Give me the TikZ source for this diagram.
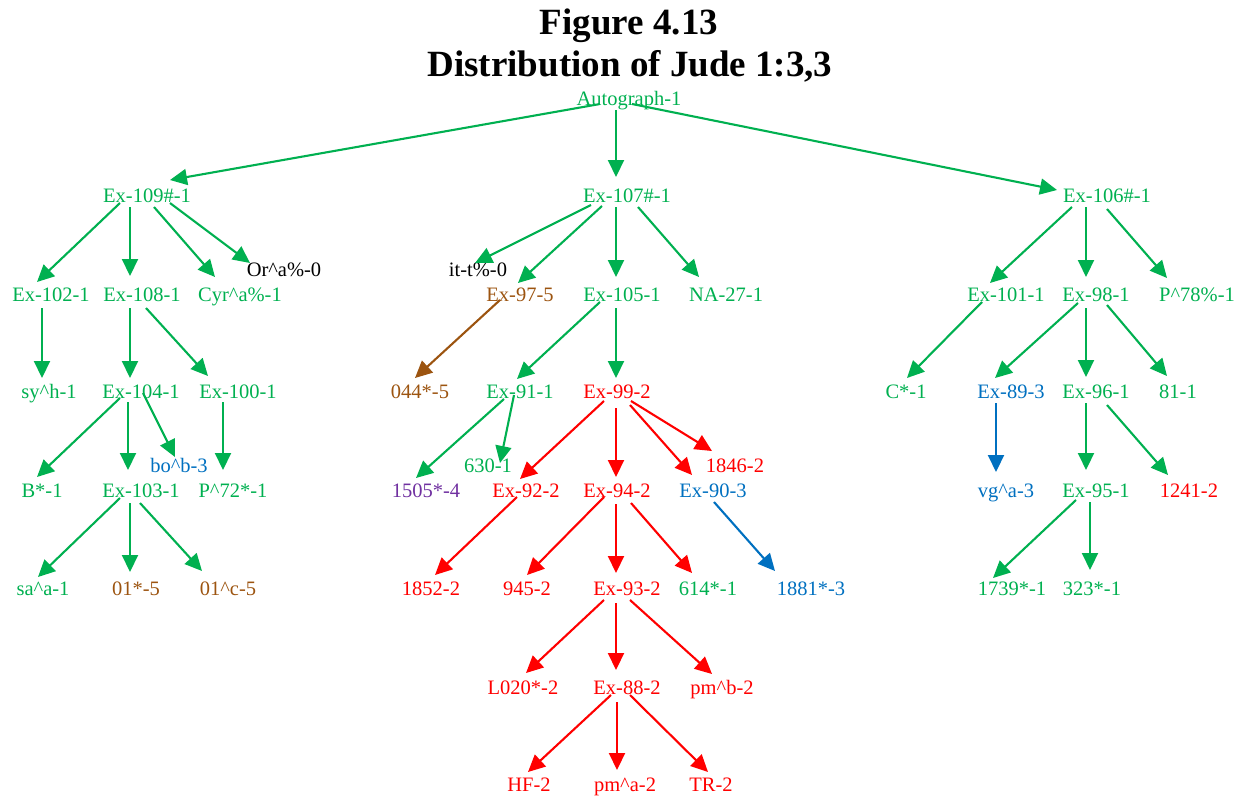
\documentclass[tikz,border=0pt]{standalone}
\usepackage{fontspec}
\setmainfont{Liberation Serif}
\usetikzlibrary{arrows.meta}
\definecolor{gr}{RGB}{0,176,80}
\definecolor{rd}{RGB}{255,0,0}
\definecolor{bl}{RGB}{0,112,192}
\definecolor{brn}{RGB}{156,84,16}
\definecolor{pu}{RGB}{112,48,160}
\newcommand\crt{\textasciicircum}
\newcommand\ed[5]{\draw[e,#1] ([shift={(#3)}]#2.center) -- ([shift={(#5)}]#4.center);}
\begin{document}
\begin{tikzpicture}[x=1pt,y=-1pt,
  lbl/.style={inner sep=0pt,text height=13.5pt,text depth=0pt,font=\fontsize{20.5}{24}\selectfont},
  g/.style={lbl,text=gr}, r/.style={lbl,text=rd}, b/.style={lbl,text=bl},
  bw/.style={lbl,text=brn}, k/.style={lbl,text=black}, pp/.style={lbl,text=pu},
  ttl/.style={anchor=base,inner sep=0pt,font=\fontsize{37}{44}\selectfont\bfseries},
  e/.style={line width=2.1pt,-{Triangle[length=17pt,width=16pt]}}]
\useasboundingbox (0,0) rectangle (1244,798);
\node[ttl] (t1) at (629,34) {Figure 4.13};
\node[ttl] (t2) at (630,76) {Distribution of Jude 1:3,3};
% nodes
\node[g] (auto) at (629,99) {Autograph-1};
\node[g] (n109) at (147,196) {Ex-109\#-1};
\node[g] (n107) at (627,196) {Ex-107\#-1};
\node[g] (n106) at (1107,196) {Ex-106\#-1};
\node[g] (n102) at (51,295) {Ex-102-1};
\node[g] (n108) at (142,295) {Ex-108-1};
\node[g] (cyr) at (240,295) {Cyr\crt a\%-1};
\node[k] (orA) at (284,270) {Or\crt a\%-0};
\node[k] (itt) at (478,270) {it-t\%-0};
\node[bw] (n97) at (520,295) {Ex-97-5};
\node[g] (n105) at (622,295) {Ex-105-1};
\node[g] (na27) at (726,295) {NA-27-1};
\node[g] (n101) at (1006,295) {Ex-101-1};
\node[g] (n98) at (1096,295) {Ex-98-1};
\node[g] (p78) at (1197,295) {P\crt 78\%-1};
\node[g] (syh) at (49,392) {sy\crt h-1};
\node[g] (n104) at (141,392) {Ex-104-1};
\node[g] (n100) at (238,392) {Ex-100-1};
\node[bw] (n044) at (420,392) {044*-5};
\node[g] (n91) at (520,392) {Ex-91-1};
\node[r] (n99) at (617,392) {Ex-99-2};
\node[g] (cst) at (906,392) {C*-1};
\node[b] (n89) at (1011,392) {Ex-89-3};
\node[g] (n96) at (1096,392) {Ex-96-1};
\node[g] (n81) at (1178,392) {81-1};
\node[b] (bob) at (179,466) {bo\crt b-3};
\node[g] (n630) at (488,466) {630-1};
\node[r] (n1846) at (735,466) {1846-2};
\node[g] (bst) at (42,491) {B*-1};
\node[g] (n103) at (141,491) {Ex-103-1};
\node[g] (p72) at (233,491) {P\crt 72*-1};
\node[pp] (n1505) at (426,491) {1505*-4};
\node[r] (n92) at (526,491) {Ex-92-2};
\node[r] (n94) at (617,491) {Ex-94-2};
\node[b] (n90) at (713,491) {Ex-90-3};
\node[b] (vga) at (1006,491) {vg\crt a-3};
\node[g] (n95) at (1096,491) {Ex-95-1};
\node[r] (n1241) at (1189,491) {1241-2};
\node[g] (saa) at (43,589) {sa\crt a-1};
\node[bw] (n01s) at (136,589) {01*-5};
\node[bw] (n01c) at (228,589) {01\crt c-5};
\node[r] (n1852) at (431,589) {1852-2};
\node[r] (n945) at (527,589) {945-2};
\node[r] (n93) at (627,589) {Ex-93-2};
\node[g] (n614) at (708,589) {614*-1};
\node[b] (n1881) at (811,589) {1881*-3};
\node[g] (n1739) at (1012,589) {1739*-1};
\node[g] (n323) at (1092,589) {323*-1};
\node[r] (l020) at (523,688) {L020*-2};
\node[r] (n88) at (627,688) {Ex-88-2};
\node[r] (pmb) at (722,688) {pm\crt b-2};
\node[r] (hf) at (529,785) {HF-2};
\node[r] (pma) at (625,785) {pm\crt a-2};
\node[r] (tr) at (711,785) {TR-2};
% edges
\ed{gr}{auto}{-29,5}{n109}{23,-16}
\ed{gr}{auto}{-13,11}{n107}{-11,-19}
\ed{gr}{auto}{3,5}{n106}{-50,-6}
\ed{gr}{n109}{-27,7}{n102}{-14,-13}
\ed{gr}{n109}{-17,11}{n108}{-12,-19}
\ed{gr}{n109}{7,11}{cyr}{-25,-18}
\ed{gr}{n109}{23,7}{orA}{-34,-7}
\ed{gr}{n107}{-36,9}{itt}{-3,-7}
\ed{gr}{n107}{-25,10}{n97}{-2,-12}
\ed{gr}{n107}{-11,11}{n105}{-6,-18}
\ed{gr}{n107}{11,11}{na27}{-27,-18}
\ed{gr}{n106}{-35,11}{n101}{-16,-12}
\ed{gr}{n106}{-21,11}{n98}{-10,-18}
\ed{gr}{n106}{0,13}{p78}{-30,-17}
\ed{gr}{n102}{-9,13}{syh}{-7,-14}
\ed{gr}{n108}{-12,13}{n104}{-11,-14}
\ed{gr}{n108}{4,13}{n100}{-30,-16}
\ed{brn}{n97}{-20,5}{n044}{-5,-14}
\ed{gr}{n105}{-22,7}{n91}{-3,-13}
\ed{gr}{n105}{-6,13}{n99}{-1,-14}
\ed{gr}{n101}{-24,7}{cst}{1,-14}
\ed{gr}{n98}{-18,8}{n89}{-16,-14}
\ed{gr}{n98}{-10,13}{n96}{-10,-15}
\ed{gr}{n98}{11,10}{n81}{-11,-16}
\ed{gr}{n104}{-21,6}{bst}{-5,-14}
\ed{gr}{n104}{-13,10}{n103}{-13,-21}
\ed{gr}{n104}{2,1}{bob}{-4,-9}
\ed{gr}{n100}{-15,10}{p72}{-10,-21}
\ed{gr}{n91}{-16,7}{n1505}{-10,-13}
\ed{gr}{n91}{-6,3}{n630}{12,-3}
\ed{rd}{n99}{-13,9}{n92}{-6,-12}
\ed{rd}{n99}{-1,16}{n94}{-1,-14}
\ed{rd}{n99}{13,13}{n90}{-21,-16}
\ed{rd}{n99}{14,9}{n1846}{-23,-15}
\ed{bl}{n89}{-15,11}{vga}{-10,-19}
\ed{gr}{n96}{-10,11}{n95}{-10,-21}
\ed{gr}{n96}{11,13}{n1241}{-21,-16}
\ed{gr}{n103}{-21,7}{saa}{-5,-12}
\ed{gr}{n103}{-11,12}{n01s}{-6,-17}
\ed{gr}{n103}{-1,12}{n01c}{-26,-18}
\ed{rd}{n92}{-9,6}{n1852}{4,-14}
\ed{rd}{n94}{-13,6}{n945}{0,-14}
\ed{rd}{n94}{-1,13}{n93}{-11,-16}
\ed{rd}{n94}{14,12}{n614}{-16,-16}
\ed{bl}{n90}{1,11}{n1881}{-36,-18}
\ed{gr}{n95}{-20,9}{n1739}{-19,-11}
\ed{gr}{n95}{-6,11}{n323}{-2,-19}
\ed{rd}{n93}{-23,11}{l020}{3,-15}
\ed{rd}{n93}{-11,14}{n88}{-11,-18}
\ed{rd}{n93}{3,11}{pmb}{-10,-14}
\ed{rd}{n88}{-16,7}{hf}{-1,-13}
\ed{rd}{n88}{-10,14}{pma}{-8,-15}
\ed{rd}{n88}{3,7}{tr}{-3,-13}
\end{tikzpicture}
\end{document}
